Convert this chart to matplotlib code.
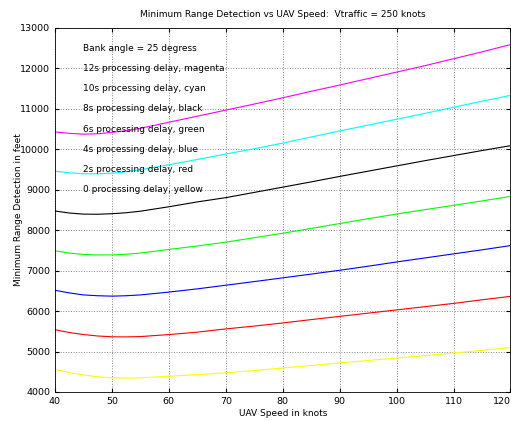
import matplotlib
matplotlib.use("Agg")
import matplotlib.pyplot as plt

# UAV speed in knots
speed = [40, 42.5, 45, 47.5, 50, 52.5, 55, 60, 65, 70, 75, 80, 85, 90, 95, 100, 105, 110, 115, 120]

# minimum range detection (feet), one list per processing delay
delay_0 = [4560, 4480, 4420, 4375, 4350, 4345, 4350, 4390, 4430, 4475, 4530, 4595, 4655, 4720, 4780, 4840, 4900, 4965, 5030, 5100]
delay_2 = [5540, 5470, 5420, 5385, 5365, 5362, 5370, 5420, 5480, 5560, 5630, 5707, 5790, 5870, 5950, 6030, 6110, 6190, 6280, 6365]
delay_4 = [6515, 6450, 6400, 6380, 6370, 6380, 6400, 6470, 6550, 6640, 6730, 6822, 6915, 7010, 7110, 7215, 7315, 7415, 7515, 7620]
delay_6 = [7490, 7435, 7400, 7388, 7390, 7405, 7435, 7525, 7610, 7705, 7815, 7925, 8045, 8165, 8285, 8400, 8510, 8615, 8725, 8835]
delay_8 = [8475, 8425, 8398, 8395, 8408, 8432, 8470, 8580, 8700, 8805, 8935, 9065, 9195, 9330, 9460, 9590, 9720, 9845, 9970, 10090]
delay_10 = [9460, 9420, 9395, 9395, 9410, 9445, 9495, 9620, 9750, 9885, 10015, 10155, 10305, 10455, 10600, 10745, 10890, 11040, 11190, 11335]
delay_12 = [10430, 10395, 10375, 10385, 10420, 10462, 10520, 10670, 10820, 10970, 11120, 11275, 11435, 11590, 11750, 11910, 12070, 12240, 12410, 12590]

labels = ["Bank angle = 25 degress",
          "12s processing delay, magenta",
          "10s processing delay, cyan",
          "8s processing delay, black",
          "6s processing delay, green",
          "4s processing delay, blue",
          "2s processing delay, red",
          "0 processing delay, yellow"]
label_y = [12500, 12000, 11500, 11000, 10500, 10000, 9500, 9000]

fig = plt.figure(figsize=(5.11, 4.21), dpi=100)
ax = fig.add_axes([0.1076, 0.0689, 0.8914, 0.8646])

series = [(delay_0, "#ffff00"), (delay_2, "#ff0000"), (delay_4, "#0000ff"),
          (delay_6, "#00ff00"), (delay_8, "#000000"), (delay_10, "#00ffff"),
          (delay_12, "#ff00ff")]
for vals, col in series:
    ax.plot(speed, vals, color=col, lw=0.8)

for txt, yy in zip(labels, label_y):
    ax.text(45, yy, txt, fontsize=6.5, ha="left", va="center")

ax.set_xlim(40, 120)
ax.set_ylim(4000, 13000)
ax.set_xticks(range(40, 121, 10))
ax.set_yticks(range(4000, 13001, 1000))
ax.grid(True, linestyle=":", color="#888888", lw=0.7)
ax.tick_params(direction="in", top=True, right=True, labelsize=6.8, length=3)
# last tick label sits against the right edge
ax.get_xticklabels()[-1].set_horizontalalignment("right")
for s in ax.spines.values():
    s.set_linewidth(0.6)

ax.set_title("Minimum Range Detection vs UAV Speed:  Vtraffic = 250 knots", fontsize=6.5, pad=8)
ax.set_xlabel("UAV Speed in knots", fontsize=6.5, labelpad=2)
ax.set_ylabel("Minimum Range Detection in feet", fontsize=6.5, labelpad=-2)

fig.savefig("out.png", dpi=100)
